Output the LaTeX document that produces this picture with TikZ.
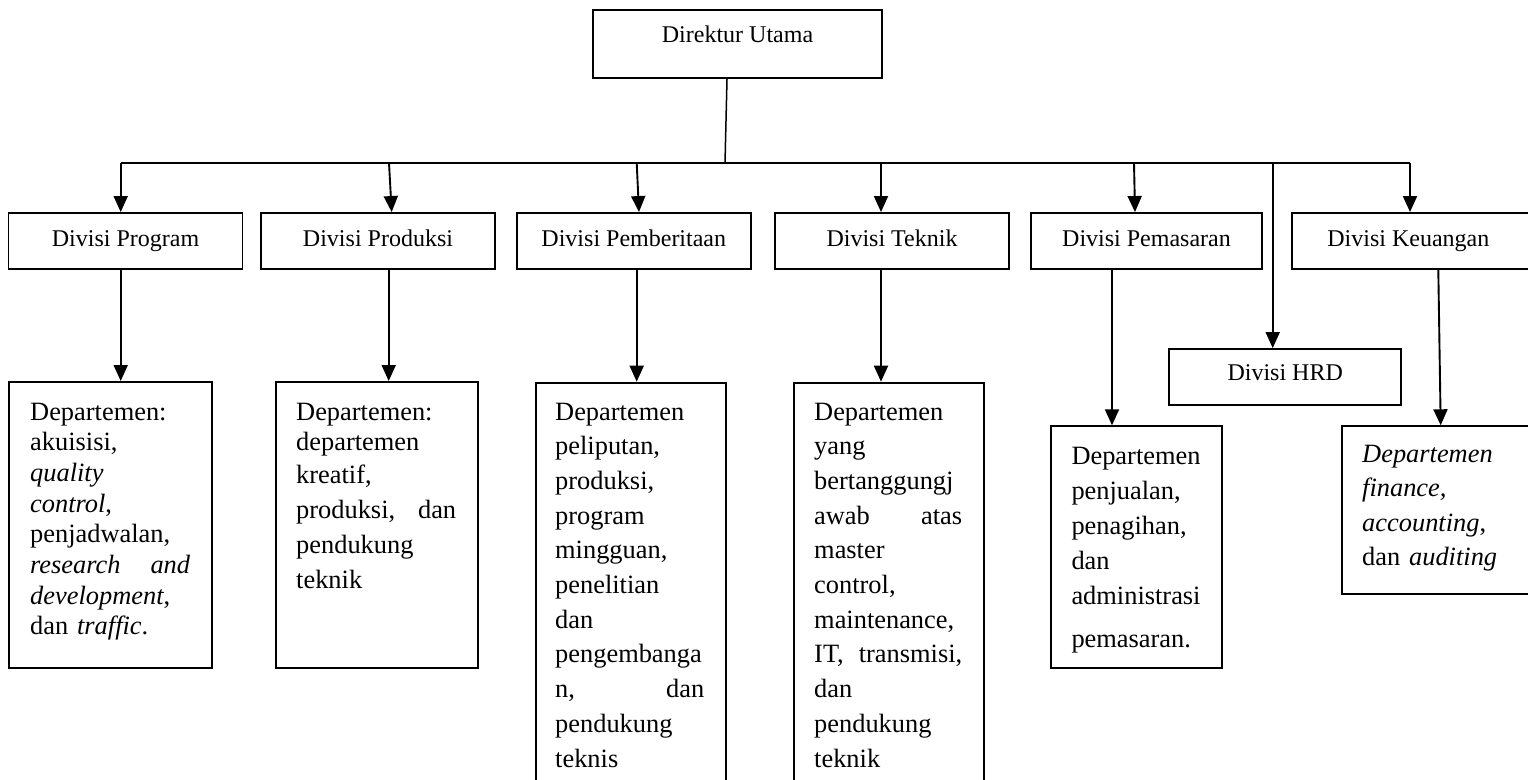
\documentclass[tikz,border=0pt]{standalone}
\usepackage{fontspec}
\setmainfont{Liberation Serif}
\usetikzlibrary{arrows.meta}
\newcommand{\jl}[3]{\leavevmode\hbox to #1{#2\hfill #3}}
\begin{document}
\begin{tikzpicture}[x=1pt,y=-1pt,
  box/.style={draw, line width=1.9pt, inner sep=0pt},
  divbox/.style={box, minimum width=234pt, minimum height=56pt, text height=17pt, text depth=5.6pt, font=\fontsize{24}{28}\selectfont},
  depbox/.style={box, anchor=north west},
  deptext/.style={anchor=base west, inner sep=0pt, align=left, font=\fontsize{26.4}{35}\selectfont},
  link/.style={line width=1.9pt},
  arr/.style={link, -{Triangle[length=16pt,width=14pt]}},
]
\clip (0,0) rectangle (1528,779);
\fill[white] (0,0) rectangle (1528,779);

% top
\node[box, minimum width=289pt, minimum height=68pt, text height=17pt, text depth=20pt, font=\fontsize{24}{28}\selectfont] (dir) at (737.5,44) {Direktur Utama};

% divisions
\node[divbox] (div1) at (125.5,241) {Divisi Program};
\node[divbox] (div2) at (378,241) {Divisi Produksi};
\node[divbox] (div3) at (633.8,241) {Divisi Pemberitaan};
\node[divbox] (div4) at (892,241) {Divisi Teknik};
\node[divbox, minimum width=231.6pt] (div5) at (1146.5,241) {Divisi Pemasaran};
\node[divbox, minimum width=262pt] (div6) at (1422.7,241) {Divisi Keuangan\hspace*{28.8pt}};
\node[divbox, minimum width=232.3pt, minimum height=56.3pt, text depth=9.6pt] (hrd) at (1285.2,377.2) {Divisi HRD};

% department boxes
\node[depbox, minimum width=203pt, minimum height=286.3pt] (dep1) at (8.3,381) {};
\node[depbox, minimum width=202.6pt, minimum height=286.3pt] (dep2) at (274.7,381) {};
\node[depbox, minimum width=190.3pt, minimum height=430pt] (dep3) at (535,381.7) {};
\node[depbox, minimum width=190.6pt, minimum height=430pt] (dep4) at (792.7,381.7) {};
\node[depbox, minimum width=170.7pt, minimum height=242pt] (dep5) at (1050,425.3) {};
\node[depbox, minimum width=210pt, minimum height=168pt] (dep6) at (1341.3,425.3) {};

% department texts
\node[deptext, text width=160pt, font=\fontsize{26.4}{30.7}\selectfont] (t1) at (30,420)
  {Departemen:\\ akuisisi,\\ \textit{quality}\\ \textit{control},\\ penjadwalan,\\ \jl{160pt}{\textit{research}}{\textit{and}}\\ \textit{development},\\ dan \textit{traffic}.};
\node[deptext, text width=160pt] (t2) at (296,420)
  {Departemen:\\[-5pt] departemen\\[-2pt] kreatif,\\ \jl{160pt}{produksi,}{dan}\\ pendukung\\ teknik};
\node[deptext, text width=149pt, font=\fontsize{26.4}{34.7}\selectfont] (t3) at (555,420)
  {Departemen\\ peliputan,\\ produksi,\\ program\\ mingguan,\\ penelitian\\ dan\\ pengembanga\\ \jl{149pt}{n,}{dan}\\ pendukung\\ teknis};
\node[deptext, text width=148pt, font=\fontsize{26.4}{34.7}\selectfont] (t4) at (814,420)
  {Departemen\\ yang\\ bertanggungj\\ \jl{148pt}{awab}{atas}\\ master\\ control,\\ maintenance,\\ \jl{148pt}{IT,}{transmisi,}\\ dan\\ pendukung\\ teknik};
\node[deptext, text width=130pt] (t5) at (1071.3,464)
  {Departemen\\ penjualan,\\ penagihan,\\ dan\\ administrasi\\[8pt] pemasaran.};
\node[deptext, text width=140pt, font=\fontsize{26.4}{34.5}\selectfont] (t6) at (1362,462)
  {\textit{Departemen}\\ \textit{finance,}\\ \textit{accounting},\\ dan \textit{auditing}};

% bus
\coordinate (b1) at (120.7,163);
\coordinate (b2) at (389,163);
\coordinate (b3) at (636.7,163);
\coordinate (b4) at (881,163);
\coordinate (b5) at (1134,163);
\coordinate (bH) at (1272.7,163);
\coordinate (b6) at (1410,163);
\coordinate (bD) at (725,163);
\draw[link] (b1) -- (b6);
\draw[link, line width=1.5pt] ([xshift=-10.5pt]dir.south) -- (bD);

% arrows to divisions
\draw[arr] (b1) -- (b1 |- div1.north);
\draw[arr] (b2) -- ([xshift=13.7pt]div2.north);
\draw[arr] (b3) -- ([xshift=5.2pt]div3.north);
\draw[arr] (b4) -- (b4 |- div4.north);
\draw[arr] (b5) -- ([xshift=-11.5pt]div5.north);
\draw[arr] (bH) -- (bH |- hrd.north);
\draw[arr] (b6) -- (b6 |- div6.north);

% arrows to departments
\coordinate (c2) at (388.7,0);
\coordinate (c3) at (636.7,0);
\coordinate (c4) at (881,0);
\coordinate (c5) at (1112,0);
\coordinate (c6a) at (1438.3,0);
\coordinate (c6b) at (1440.7,0);
\draw[arr] (b1 |- div1.south) -- (b1 |- dep1.north);
\draw[arr] (c2 |- div2.south) -- (c2 |- dep2.north);
\draw[arr] (c3 |- div3.south) -- (c3 |- dep3.north);
\draw[arr] (c4 |- div4.south) -- (c4 |- dep4.north);
\draw[arr] (c5 |- div5.south) -- (c5 |- dep5.north);
\draw[arr] (c6a |- div6.south) -- (c6b |- dep6.north);
\end{tikzpicture}
\end{document}
